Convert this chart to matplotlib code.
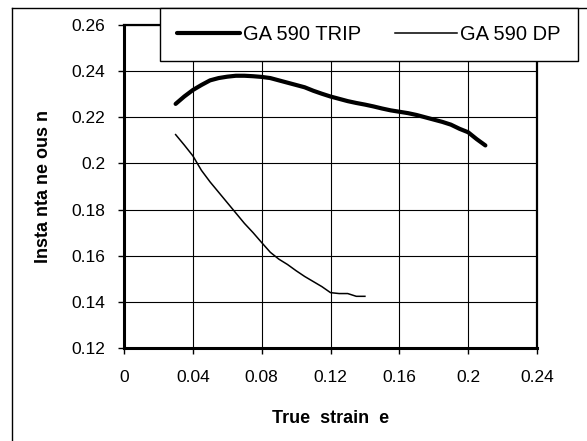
import matplotlib
matplotlib.use("Agg")
import matplotlib.pyplot as plt
from matplotlib.lines import Line2D

plt.rcParams['font.family'] = ['Liberation Sans', 'DejaVu Sans']

# true strain values
strain_trip = [0.03, 0.035, 0.04, 0.045, 0.05, 0.055, 0.06, 0.065, 0.07, 0.075,
               0.08, 0.085, 0.09, 0.095, 0.1, 0.105, 0.11, 0.115, 0.12, 0.125,
               0.13, 0.135, 0.14, 0.145, 0.15, 0.155, 0.16, 0.165, 0.17, 0.175,
               0.18, 0.185, 0.19, 0.195, 0.2, 0.205, 0.21]
n_trip = [0.2258, 0.2290, 0.2318, 0.2340, 0.2360, 0.2370, 0.2376, 0.2380, 0.2380, 0.2378,
          0.2375, 0.2370, 0.2360, 0.2350, 0.2340, 0.2330, 0.2315, 0.2302, 0.2290, 0.2280,
          0.2270, 0.2262, 0.2255, 0.2247, 0.2238, 0.2230, 0.2224, 0.2218, 0.2210, 0.2200,
          0.2190, 0.2180, 0.2168, 0.2150, 0.2135, 0.2105, 0.2078]

strain_dp = [0.03, 0.035, 0.04, 0.045, 0.05, 0.055, 0.06, 0.065, 0.07, 0.075,
             0.08, 0.085, 0.09, 0.095, 0.1, 0.105, 0.11, 0.115, 0.12, 0.125,
             0.13, 0.135, 0.14]
n_dp = [0.2125, 0.2080, 0.2033, 0.1970, 0.1920, 0.1875, 0.1830, 0.1785, 0.1740, 0.1700,
        0.1657, 0.1615, 0.1585, 0.1562, 0.1535, 0.1510, 0.1488, 0.1466, 0.1440, 0.1436,
        0.1436, 0.1424, 0.1424]

xticks = [0, 0.04, 0.08, 0.12, 0.16, 0.2, 0.24]
xtick_labels = ["0", "0.04", "0.08", "0.12", "0.16", "0.2", "0.24"]
yticks = [0.12, 0.14, 0.16, 0.18, 0.2, 0.22, 0.24, 0.26]
ytick_labels = ["0.12", "0.14", "0.16", "0.18", "0.2", "0.22", "0.24", "0.26"]

fig = plt.figure(figsize=(5.87, 4.41), dpi=100)
W, H = 587, 441
ax = fig.add_axes([124 / W, 1 - 348 / H, (537 - 124) / W, (348 - 25) / H])

# outer chart frame (left and top edges visible)
fig.add_artist(Line2D([12 / W, 12 / W], [0, 1 - 8 / H], color='black', lw=1.0,
                      transform=fig.transFigure))
fig.add_artist(Line2D([12 / W, 1], [1 - 8 / H, 1 - 8 / H], color='black', lw=1.0,
                      transform=fig.transFigure))

ax.plot(strain_trip, n_trip, color='black', lw=3.0, label='GA 590 TRIP',
        solid_capstyle='round')
ax.plot(strain_dp, n_dp, color='black', lw=1.1, label='GA 590 DP')

ax.set_xlim(0, 0.24)
ax.set_ylim(0.12, 0.26)
ax.set_xticks(xticks)
ax.set_xticklabels(xtick_labels)
ax.set_yticks(yticks)
ax.set_yticklabels(ytick_labels)
ax.grid(True, color='black', lw=0.8)
ax.set_axisbelow(True)
ax.tick_params(direction='out', length=4.5, width=1, labelsize=12.5)
ax.tick_params(axis='y', pad=9)
ax.tick_params(axis='x', pad=11)

for side in ['left', 'bottom']:
    ax.spines[side].set_linewidth(2.2)
for side in ['top', 'right']:
    ax.spines[side].set_linewidth(1.6)

ax.set_xlabel('True  strain  e', fontsize=13, fontweight='bold', labelpad=18)
ax.set_ylabel('Insta nta ne ous n', fontsize=13, fontweight='bold', labelpad=14)

leg = fig.legend(loc='upper left', bbox_to_anchor=(160 / W, 1 - 56 / H, 418 / W, 48 / H),
                 mode='expand', ncol=2, fontsize=14.5, frameon=True, fancybox=False,
                 handlelength=3.1, handletextpad=0.15, columnspacing=0.8,
                 borderpad=0.85, borderaxespad=0)
leg.get_frame().set_edgecolor('black')
leg.get_frame().set_linewidth(1.0)
leg.get_frame().set_alpha(1)

fig.savefig('out.png', dpi=100)
